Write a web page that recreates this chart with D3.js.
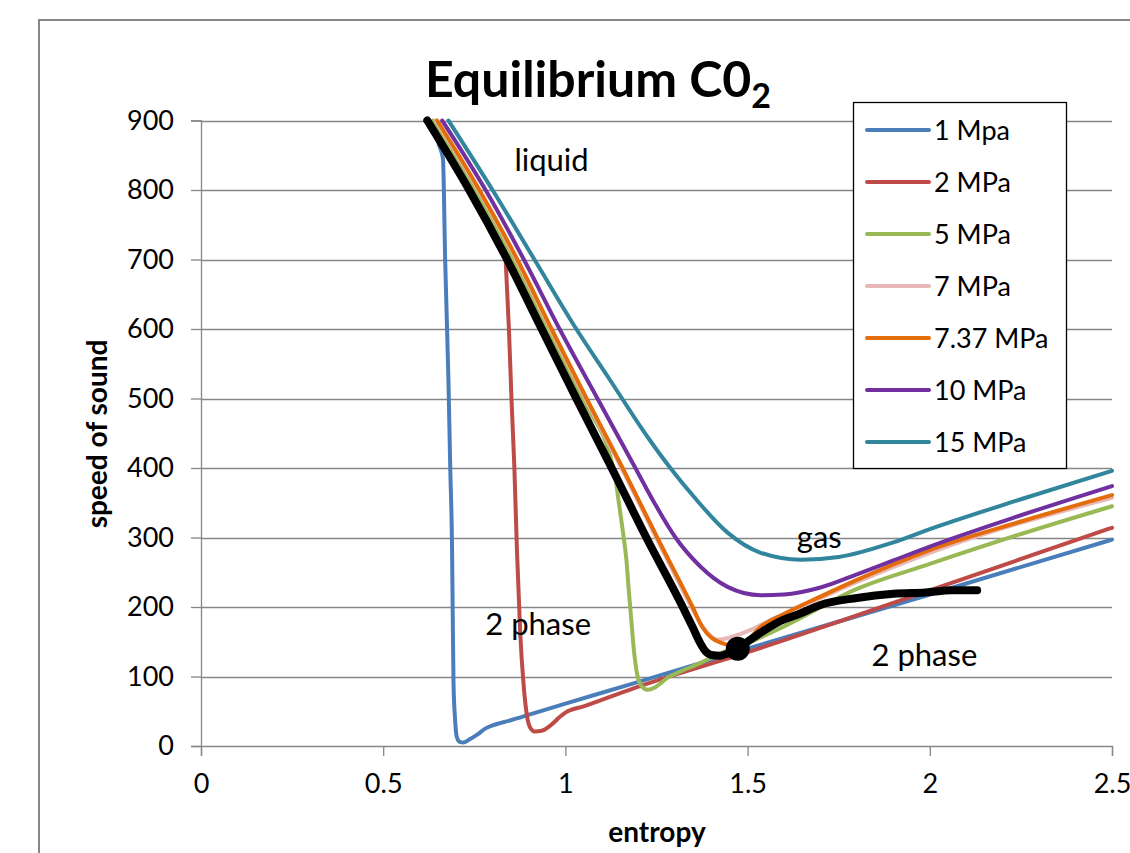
<!DOCTYPE html>
<html><head><meta charset="utf-8">
<script src="https://cdn.jsdelivr.net/npm/d3@7"></script>
<style>
body{margin:0;background:#fff;}
svg{display:block;font-family:Lato,"Open Sans",sans-serif;}
</style>
</head><body>
<svg id="chart" width="1130" height="853"></svg>
<script>
// ---------------- data ----------------
const seriesNames  = ["1 Mpa","2 MPa","5 MPa","7 MPa","7.37 MPa","10 MPa","15 MPa"];
const seriesColors = ["#4A7EBB","#BE4B48","#98B954","#E6B9B8","#E46C0A","#7030A0","#31859C"];

const s1_entropy = [0.628,0.655,0.664,0.670,0.679,0.684,0.689,0.691,0.693,0.697,0.702,0.710,0.720,0.735,0.757,0.780,0.802,0.850,0.912,1.000,1.187,1.500,2.000,2.500];
const s1_speed   = [895,862,845,700,527,400,282,180,90,40,13,6,5,9,16,25,30,37,47,61,90,140,218,297];

const s2_entropy = [0.836,0.845,0.852,0.860,0.867,0.876,0.885,0.895,0.905,0.915,0.935,0.960,0.985,1.000,1.050,1.187,1.500,2.000,2.500];
const s2_speed   = [700,600,500,400,282,163,90,42,25,21,22,30,42,48,57,83,135,224,314];

const s5_entropy = [0.637,0.752,0.856,0.951,1.046,1.135,1.148,1.160,1.167,1.173,1.181,1.188,1.197,1.208,1.225,1.245,1.280,1.310,1.360,1.420,1.500,1.600,1.800,2.000,2.250,2.500];
const s5_speed   = [900,800,700,600,500,392,345,300,270,230,180,138,103,87,81,84,98,106,117,132,148,172,226,262,305,345];

const s7_entropy = [0.645,0.761,0.865,0.959,1.055,1.154,1.249,1.346,1.372,1.395,1.418,1.450,1.508,1.550,1.600,1.700,1.800,2.000,2.500];
const s7_speed   = [900,800,700,600,500,400,300,200,175,160,153,156,167,178,190,213,236,278,357];

const s737_entropy = [0.648,0.764,0.868,0.962,1.058,1.157,1.252,1.349,1.375,1.400,1.430,1.470,1.500,1.533,1.600,1.700,1.800,2.000,2.250,2.500];
const s737_speed   = [900,800,700,600,500,400,300,200,172,156,148,143,152,170,190,215,239,282,323,361];

const s10_entropy = [0.662,0.781,0.886,0.984,1.088,1.192,1.244,1.302,1.371,1.445,1.536,1.600,1.700,1.800,1.900,2.000,2.250,2.500];
const s10_speed   = [900,800,700,600,500,400,350,300,258,229,217,218,228,247,267,287,332,374];

const s15_entropy = [0.679,0.800,0.915,1.030,1.122,1.225,1.288,1.352,1.445,1.536,1.646,1.750,1.900,2.000,2.250,2.500];
const s15_speed   = [900,800,700,600,527,445,400,359,307,278,268,272,293,312,355,396];

const eq_entropy = [0.621,0.736,0.840,0.935,1.030,1.127,1.222,1.322,1.350,1.370,1.385,1.400,1.425,1.445,1.473,1.500,1.536,1.580,1.646,1.700,1.800,1.900,1.989,2.060,2.130];
const eq_speed   = [900,800,700,600,500,400,300,200,170,148,136,131,130,133,140,150,163,177,191,203,213,219,221,224,224];

const critical_entropy = [1.473];
const critical_speed   = [140];

const xTicks = [0,0.5,1,1.5,2,2.5];
const xTickLabels = ["0","0.5","1","1.5","2","2.5"];
const yTicks = [0,100,200,300,400,500,600,700,800,900];

const annotations = [
  {text:"liquid", x:0.86, y:828},
  {text:"gas", x:1.635, y:285},
  {text:"2 phase", x:0.78, y:160},
  {text:"2 phase", x:1.84, y:115}
];

// ---------------- chart ----------------
(function(){
const svg = d3.select("#chart");
const W = 1130, H = 853;
const mLeft = 201, mRight = 1112, mTop = 120.5, mBottom = 746;

const x = d3.scaleLinear().domain([0,2.5]).range([mLeft,mRight]);
const y = d3.scaleLinear().domain([0,900]).range([mBottom,mTop]);

svg.append("rect").attr("width",W).attr("height",H).attr("fill","#fff");
svg.append("rect").attr("x",39).attr("y",20).attr("width",W+20).attr("height",H+20)
  .attr("fill","none").attr("stroke","#868686").attr("stroke-width",2);

const gridColor = "#868686";
svg.append("g").selectAll("line").data(yTicks.filter(d=>d>0)).join("line")
  .attr("x1",mLeft).attr("x2",mRight)
  .attr("y1",d=>Math.round(y(d))+0.5).attr("y2",d=>Math.round(y(d))+0.5)
  .attr("stroke",gridColor).attr("stroke-width",1.3);

const yAxis = d3.axisLeft(y).tickValues(yTicks).tickSize(10).tickPadding(17).tickFormat(d3.format("d"));
const gy = svg.append("g").attr("transform",`translate(${mLeft},0)`).call(yAxis);
gy.select(".domain").attr("stroke",gridColor).attr("stroke-width",1.3);
gy.selectAll(".tick line").attr("stroke",gridColor).attr("stroke-width",1.3);
gy.selectAll(".tick text").attr("font-size",27).attr("font-family","Lato").attr("fill","#000");

const xAxis = d3.axisBottom(x).tickValues(xTicks).tickSize(10).tickPadding(18)
  .tickFormat((d,i)=>xTickLabels[i]);
const gx = svg.append("g").attr("transform",`translate(0,${mBottom})`).call(xAxis);
gx.select(".domain").attr("stroke",gridColor).attr("stroke-width",1.3);
gx.selectAll(".tick line").attr("stroke",gridColor).attr("stroke-width",1.3);
gx.selectAll(".tick text").attr("font-size",27).attr("font-family","Lato").attr("fill","#000");

const series = [
  {name:seriesNames[0], color:seriesColors[0], xs:s1_entropy,   ys:s1_speed},
  {name:seriesNames[1], color:seriesColors[1], xs:s2_entropy,   ys:s2_speed},
  {name:seriesNames[2], color:seriesColors[2], xs:s5_entropy,   ys:s5_speed},
  {name:seriesNames[3], color:seriesColors[3], xs:s7_entropy,   ys:s7_speed},
  {name:seriesNames[4], color:seriesColors[4], xs:s737_entropy, ys:s737_speed},
  {name:seriesNames[5], color:seriesColors[5], xs:s10_entropy,  ys:s10_speed},
  {name:seriesNames[6], color:seriesColors[6], xs:s15_entropy,  ys:s15_speed}
];

const line = d3.line().x(d=>x(d[0])).y(d=>y(d[1])).curve(d3.curveMonotoneX);
const gLines = svg.append("g");
series.forEach(s=>{
  gLines.append("path")
    .datum(s.xs.map((v,i)=>[v,s.ys[i]]))
    .attr("d",line).attr("fill","none").attr("stroke",s.color)
    .attr("stroke-width",4).attr("stroke-linejoin","round").attr("stroke-linecap","round");
});

svg.append("path")
  .datum(eq_entropy.map((v,i)=>[v,eq_speed[i]]))
  .attr("d",line).attr("fill","none").attr("stroke","#000")
  .attr("stroke-width",8).attr("stroke-linejoin","round").attr("stroke-linecap","round");

svg.append("g").selectAll("circle").data(critical_entropy.map((v,i)=>[v,critical_speed[i]])).join("circle")
  .attr("cx",d=>x(d[0])).attr("cy",d=>y(d[1])).attr("r",12).attr("fill","#000");

svg.append("g").selectAll("text").data(annotations).join("text")
  .attr("x",d=>x(d.x)).attr("y",d=>y(d.y))
  .attr("font-size",31).attr("fill","#000").text(d=>d.text);

const title = svg.append("text").attr("x",425).attr("y",97)
  .attr("font-size",50).attr("font-weight","bold").attr("fill","#000");
title.append("tspan").text("Equilibrium C0");
title.append("tspan").attr("font-size",34).attr("dy",11).text("2");

svg.append("text").attr("x",657).attr("y",842).attr("text-anchor","middle")
  .attr("font-size",28).attr("font-weight","bold").text("entropy");
svg.append("text").attr("transform","translate(107,434) rotate(-90)").attr("text-anchor","middle")
  .attr("font-size",28).attr("font-weight","bold").text("speed of sound");

const lg = svg.append("g");
lg.append("rect").attr("x",853.5).attr("y",102.5).attr("width",213).attr("height",366)
  .attr("fill","#fff").attr("stroke","#000").attr("stroke-width",1.3);
const legendY0 = 130, legendStep = 52;
series.forEach((s,i)=>{
  const yy = legendY0 + i*legendStep;
  lg.append("line").attr("x1",867).attr("x2",929).attr("y1",yy).attr("y2",yy)
    .attr("stroke",s.color).attr("stroke-width",4).attr("stroke-linecap","round");
  lg.append("text").attr("x",934).attr("y",yy+10).attr("font-size",27).attr("fill","#000").text(s.name);
});
})();
</script>
</body></html>
